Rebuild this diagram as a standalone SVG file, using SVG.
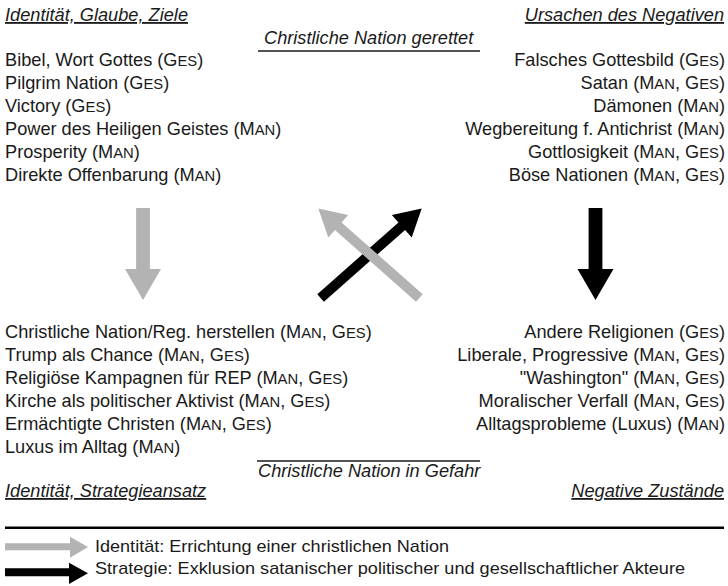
<svg xmlns="http://www.w3.org/2000/svg" width="728" height="586" viewBox="0 0 728 586">
<style>
text{font-family:"Liberation Sans",Arial,sans-serif;font-size:18.2px;fill:#1a1a1a}
.h{font-style:italic;text-decoration:underline}
.c{font-style:italic}
.r{text-anchor:end}
.sc{font-size:14.8px}
.lg{font-size:17px}
.rule{stroke:#1a1a1a;stroke-width:1.3;fill:none}
.gray{fill:#b3b3b3}
.black{fill:#000}
</style>
<rect width="728" height="586" fill="#fff"/>

<g id="top-left">
<text class="h" x="5" y="21">Identität, Glaube, Ziele</text>
<text x="5" y="66">Bibel, Wort Gottes (G<tspan class="sc">ES</tspan>)</text>
<text x="5" y="88.9">Pilgrim Nation (G<tspan class="sc">ES</tspan>)</text>
<text x="5" y="111.8">Victory (G<tspan class="sc">ES</tspan>)</text>
<text x="5" y="134.7">Power des Heiligen Geistes (M<tspan class="sc">AN</tspan>)</text>
<text x="5" y="157.6">Prosperity (M<tspan class="sc">AN</tspan>)</text>
<text x="5" y="180.5">Direkte Offenbarung (M<tspan class="sc">AN</tspan>)</text>
</g>

<g id="top-center">
<text class="c" x="264" y="44">Christliche Nation gerettet</text>
<line class="rule" x1="258" y1="51" x2="480" y2="51"/>
</g>

<g id="top-right">
<text class="h r" x="724" y="21">Ursachen des Negativen</text>
<text class="r" x="725" y="66">Falsches Gottesbild (G<tspan class="sc">ES</tspan>)</text>
<text class="r" x="725" y="88.9">Satan (M<tspan class="sc">AN</tspan>, G<tspan class="sc">ES</tspan>)</text>
<text class="r" x="725" y="111.8">Dämonen (M<tspan class="sc">AN</tspan>)</text>
<text class="r" x="725" y="134.7">Wegbereitung f. Antichrist (M<tspan class="sc">AN</tspan>)</text>
<text class="r" x="725" y="157.6">Gottlosigkeit (M<tspan class="sc">AN</tspan>, G<tspan class="sc">ES</tspan>)</text>
<text class="r" x="725" y="180.5">Böse Nationen (M<tspan class="sc">AN</tspan>, G<tspan class="sc">ES</tspan>)</text>
</g>

<g id="bottom-left">
<text x="5" y="338">Christliche Nation/Reg. herstellen (M<tspan class="sc">AN</tspan>, G<tspan class="sc">ES</tspan>)</text>
<text x="5" y="360.9">Trump als Chance (M<tspan class="sc">AN</tspan>, G<tspan class="sc">ES</tspan>)</text>
<text x="5" y="383.8">Religiöse Kampagnen für REP (M<tspan class="sc">AN</tspan>, G<tspan class="sc">ES</tspan>)</text>
<text x="5" y="406.7">Kirche als politischer Aktivist (M<tspan class="sc">AN</tspan>, G<tspan class="sc">ES</tspan>)</text>
<text x="5" y="429.6">Ermächtigte Christen (M<tspan class="sc">AN</tspan>, G<tspan class="sc">ES</tspan>)</text>
<text x="5" y="452.5">Luxus im Alltag (M<tspan class="sc">AN</tspan>)</text>
<text class="h" x="5" y="497">Identität, Strategieansatz</text>
</g>

<g id="bottom-center">
<line class="rule" x1="257" y1="461" x2="480" y2="461"/>
<text class="c" x="258" y="477">Christliche Nation in Gefahr</text>
</g>

<g id="bottom-right">
<text class="r" x="725" y="338">Andere Religionen (G<tspan class="sc">ES</tspan>)</text>
<text class="r" x="725" y="360.9">Liberale, Progressive (M<tspan class="sc">AN</tspan>, G<tspan class="sc">ES</tspan>)</text>
<text class="r" x="725" y="383.8">"Washington" (M<tspan class="sc">AN</tspan>, G<tspan class="sc">ES</tspan>)</text>
<text class="r" x="725" y="406.7">Moralischer Verfall (M<tspan class="sc">AN</tspan>, G<tspan class="sc">ES</tspan>)</text>
<text class="r" x="725" y="429.6">Alltagsprobleme (Luxus) (M<tspan class="sc">AN</tspan>)</text>
<text class="h r" x="724" y="497">Negative Zustände</text>
</g>

<g id="connectors">
<polygon class="gray" points="136.1,208 149.9,208 149.9,269 161,269 143,300 125,269 136.1,269"/>
<polygon class="black" points="588.6,208 602.4,208 602.4,269 613.5,269 595.5,300 577.5,269 588.6,269"/>
<polygon class="black" transform="translate(320.6,298) rotate(-41.5)" points="0,-5 108.4,-5 108.4,-15 135,0 108.4,15 108.4,5 0,5"/>
<polygon class="gray" transform="translate(740,0) scale(-1,1) translate(320.6,298) rotate(-41.5)" points="0,-5 108.4,-5 108.4,-15 135,0 108.4,15 108.4,5 0,5"/>
</g>

<g id="legend">
<line x1="5" y1="527.7" x2="724" y2="527.7" stroke="#000" stroke-width="2.4"/>
<polygon class="gray" points="5,543.3 70,543.3 70,536.7 88,547 70,557.7 70,550.3 5,550.3"/>
<polygon class="black" points="5,568.3 69,568.3 69,562.7 88,573.3 69,584 69,576.3 5,576.3"/>
<text class="lg" x="95" y="552.3" textLength="354" lengthAdjust="spacingAndGlyphs">Identität: Errichtung einer christlichen Nation</text>
<text class="lg" x="95" y="574" textLength="590" lengthAdjust="spacingAndGlyphs">Strategie: Exklusion satanischer politischer und gesellschaftlicher Akteure</text>
</g>
</svg>
